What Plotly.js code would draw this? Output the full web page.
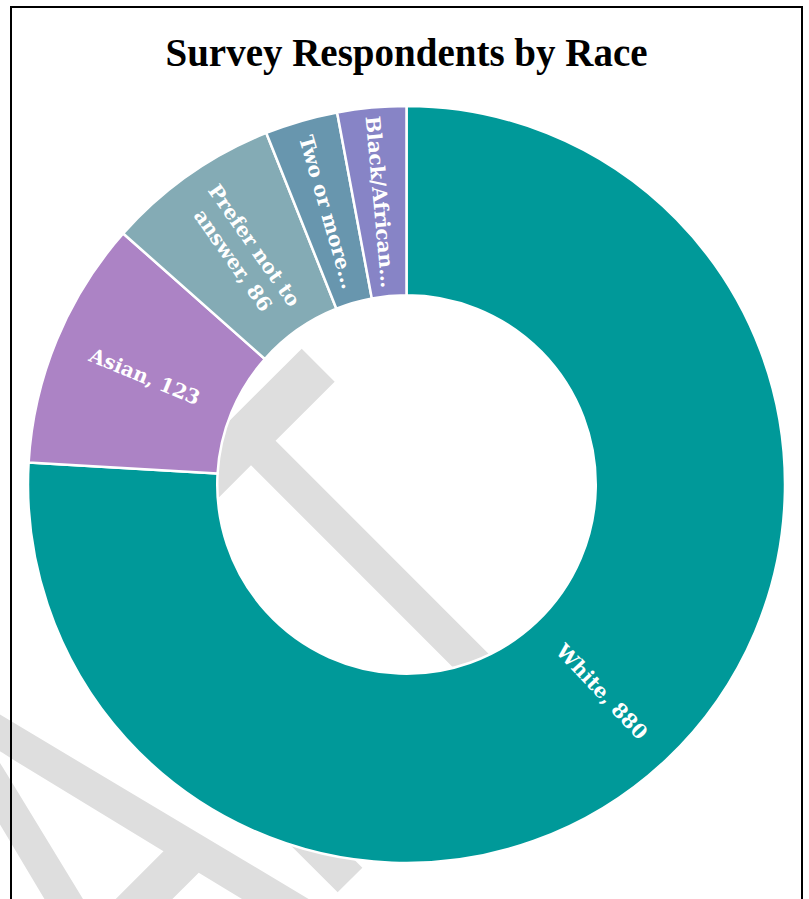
<!DOCTYPE html>
<html>
<head>
<meta charset="utf-8">
<script src="https://cdn.plot.ly/plotly-3.0.1.min.js"></script>
<style>
  html, body { margin: 0; padding: 0; width: 809px; height: 899px; overflow: hidden; background: #ffffff; }
  #wm { position: absolute; left: 0; top: 0; width: 809px; height: 899px; z-index: 0; }
  #frame { position: absolute; left: 10px; top: 6px; width: 789px; height: 1000px; border: 2px solid #000; z-index: 1; pointer-events: none; }
  #chart { position: absolute; left: 0; top: 0; width: 809px; height: 899px; z-index: 2; }
</style>
</head>
<body>
<svg id="wm" width="809" height="899" xmlns="http://www.w3.org/2000/svg">
  <g transform="translate(520,710) rotate(-45) scale(0.63,1)">
    <text font-family="Lato" font-size="572" fill="#dedede" y="0"><tspan x="-1408" text-anchor="middle">D</tspan><tspan x="-1013" text-anchor="middle">R</tspan><tspan x="-635" text-anchor="middle">A</tspan><tspan x="-300" text-anchor="middle">F</tspan><tspan x="0" text-anchor="middle">T</tspan></text>
  </g>
</svg>
<div id="frame"></div>
<div id="chart"></div>
<script>
// Data
const categories = ['White', 'Asian', 'Prefer not to answer', 'Two or more races', 'Black/African American'];
const values = [880, 123, 86, 36, 34];
const shortLabels = ['White', 'Asian', 'Prefer not to<br>answer', 'Two or more…', 'Black/African…'];
const sliceColors = ['#009999', '#ac83c5', '#84abb5', '#6896ae', '#8784c6'];

const labelText = shortLabels.map((s, i) => s.endsWith('…') ? s : s + ', ' + values[i]);

// The largest slice's label is drawn as an annotation at its mid-angle (radial),
// because Plotly would otherwise move it to the 9 o'clock crossing.
const total = values.reduce((a, b) => a + b, 0);
const bigIdx = 0;
const cumBefore = values.slice(0, bigIdx).reduce((a, b) => a + b, 0);
const midTheta = 2 * Math.PI * (cumBefore + values[bigIdx] / 2) / total; // clockwise from 12 o'clock
const holeFrac = 0.5;
const rMid = 0.5 * (1 + holeFrac) / 2; // paper units (square domain)

const traceText = labelText.map((t, i) => i === bigIdx ? '' : t);

const trace = {
  type: 'pie',
  labels: categories,
  values: values,
  text: traceText,
  textinfo: 'text',
  textposition: 'inside',
  insidetextorientation: 'radial',
  hole: holeFrac,
  sort: false,
  direction: 'clockwise',
  rotation: 0,
  marker: { colors: sliceColors, line: { color: '#ffffff', width: 2.5 } },
  textfont: { family: 'DejaVu Serif', size: 20, color: '#ffffff', weight: 'bold' },
  hoverinfo: 'none',
  showlegend: false
};

const layout = {
  width: 809,
  height: 899,
  margin: { l: 28, r: 24, t: 106, b: 36 },
  paper_bgcolor: 'rgba(0,0,0,0)',
  plot_bgcolor: 'rgba(0,0,0,0)',
  showlegend: false,
  title: {
    text: '<b>Survey Respondents by Race</b>',
    font: { family: 'Liberation Serif', size: 39, color: '#000000' },
    x: 0.5, xanchor: 'center', xref: 'paper',
    y: 1 - 52 / 899, yanchor: 'middle', yref: 'container'
  },
  annotations: [{
    text: labelText[bigIdx],
    xref: 'paper', yref: 'paper',
    x: 0.5 + rMid * Math.sin(midTheta),
    y: 0.5 + rMid * Math.cos(midTheta),
    xanchor: 'center', yanchor: 'middle',
    textangle: midTheta * 180 / Math.PI - 90,
    showarrow: false,
    font: { family: 'DejaVu Serif', size: 20, color: '#ffffff', weight: 'bold' }
  }]
};

Plotly.newPlot('chart', [trace], layout, { staticPlot: true, displayModeBar: false });
</script>
</body>
</html>
